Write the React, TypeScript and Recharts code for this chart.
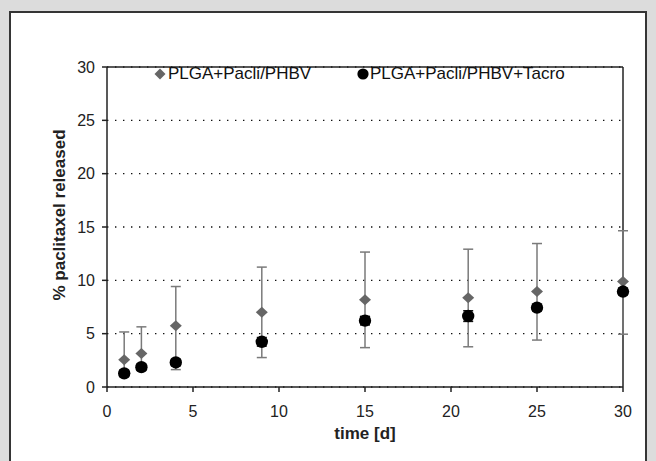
import {
  ScatterChart,
  Scatter,
  XAxis,
  YAxis,
  CartesianGrid,
  ErrorBar,
  ReferenceLine,
  Legend,
  Label,
} from "recharts"

const days = [1, 2, 4, 9, 15, 21, 25, 30]
const pacliPhbv = [2.56, 3.14, 5.75, 7.0, 8.17, 8.37, 8.95, 9.9]
// error bars as [below, above]
const pacliPhbvErrLow = [1.3, 1.3, 4.12, 4.24, 4.48, 4.6, 4.55, 4.95]
const pacliPhbvErrHigh = [2.6, 2.5, 3.67, 4.24, 4.48, 4.55, 4.5, 4.75]
const pacliTacro = [1.28, 1.86, 2.3, 4.24, 6.22, 6.65, 7.44, 8.95]
const pacliTacroErr = [0.3, 0.3, 0.3, 0.4, 0.4, 0.5, 0.3, 0.3]
const xTicks = [0, 5, 10, 15, 20, 25, 30]
const yTicks = [0, 5, 10, 15, 20, 25, 30]

const SERIES_1 = "PLGA+Pacli/PHBV"
const SERIES_2 = "PLGA+Pacli/PHBV+Tacro"

const FONT = "'Liberation Sans', Arial, Helvetica, sans-serif"
const INK = "#222"
const DIAMOND_FILL = "#666"

const phbvData = days.map((d, i) => ({
  x: d,
  y: pacliPhbv[i],
  err: [pacliPhbvErrLow[i], pacliPhbvErrHigh[i]],
}))
const tacroData = days.map((d, i) => ({ x: d, y: pacliTacro[i], err: pacliTacroErr[i] }))

const tickStyle = { fontSize: 16, fill: INK, fontFamily: FONT }

function DiamondShape(props: any) {
  const { cx, cy } = props
  if (cx == null || cy == null) return null
  return <path d={`M${cx},${cy - 5.5} L${cx + 6},${cy} L${cx},${cy + 5.5} L${cx - 6},${cy} Z`} fill={DIAMOND_FILL} />
}

function DotShape(props: any) {
  const { cx, cy } = props
  if (cx == null || cy == null) return null
  return <circle cx={cx} cy={cy} r={6.2} fill="#000" />
}

function LegendBox() {
  return (
    <div style={{ position: "relative", width: 480, height: 24, fontFamily: FONT, fontSize: 17, color: "#111" }}>
      <div style={{ position: "absolute", left: 0, top: 0, display: "flex", alignItems: "center", height: 24 }}>
        <svg width={12} height={12} style={{ marginRight: 2 }}>
          <path d="M6,0.5 L11.5,6 L6,11.5 L0.5,6 Z" fill={DIAMOND_FILL} />
        </svg>
        <span>{SERIES_1}</span>
      </div>
      <div style={{ position: "absolute", left: 203, top: 0, display: "flex", alignItems: "center", height: 24 }}>
        <svg width={12} height={12} style={{ marginRight: 1 }}>
          <circle cx={6} cy={6} r={5.6} fill="#000" />
        </svg>
        <span>{SERIES_2}</span>
      </div>
    </div>
  )
}

export default function App() {
  return (
    <div
      style={{
        position: "absolute",
        left: 0,
        top: 0,
        width: 656,
        height: 461,
        overflow: "hidden",
        background: "#dcdcdc",
      }}
    >
      <div
        style={{
          position: "absolute",
          left: 9,
          top: 11,
          width: 638,
          height: 470,
          boxSizing: "border-box",
          border: "2px solid #353535",
          background: "#fff",
        }}
      />
      <div style={{ position: "absolute", left: 0, top: 0 }}>
        <ScatterChart width={656} height={461} margin={{ top: 43, right: 33, bottom: 34, left: 0 }}>
          <CartesianGrid
            horizontal
            vertical={false}
            stroke="#111"
            strokeWidth={1.3}
            strokeDasharray="1.4 6.6"
          />
          <XAxis
            type="number"
            dataKey="x"
            domain={[0, 30]}
            ticks={xTicks}
            height={40}
            tick={tickStyle}
            tickSize={5}
            tickMargin={14}
            axisLine={{ stroke: INK, strokeWidth: 1.5 }}
            tickLine={{ stroke: INK, strokeWidth: 1.5 }}
          >
            <Label
              value="time [d]"
              position="bottom"
              offset={0}
              style={{ fontSize: 17, fontWeight: "bold", fill: INK, fontFamily: FONT }}
            />
          </XAxis>
          <YAxis
            type="number"
            dataKey="y"
            domain={[0, 30]}
            ticks={yTicks}
            width={107}
            tick={tickStyle}
            tickSize={5}
            tickMargin={7}
            axisLine={{ stroke: INK, strokeWidth: 1.5 }}
            tickLine={{ stroke: INK, strokeWidth: 1.5 }}
          >
            <Label
              content={() => (
                <text
                  x={59}
                  y={215}
                  transform="rotate(-90 59 215)"
                  textAnchor="middle"
                  dominantBaseline="central"
                  style={{ fontSize: 17, fontWeight: "bold", fill: INK, fontFamily: FONT }}
                >
                  % paclitaxel released
                </text>
              )}
            />
          </YAxis>
          <ReferenceLine y={30} stroke={INK} strokeWidth={1.5} />
          <ReferenceLine x={30} stroke={INK} strokeWidth={1.5} />
          <Legend
            verticalAlign="top"
            align="left"
            wrapperStyle={{ top: 62, left: 154, width: 480 }}
            content={() => <LegendBox />}
          />
          <Scatter name={SERIES_1} data={phbvData} shape={DiamondShape} isAnimationActive={false}>
            <ErrorBar dataKey="err" direction="y" width={5} stroke="#7a7a7a" strokeWidth={1.5} />
          </Scatter>
          <Scatter name={SERIES_2} data={tacroData} shape={DotShape} isAnimationActive={false}>
            <ErrorBar dataKey="err" direction="y" width={5} stroke="#111" strokeWidth={1.5} />
          </Scatter>
        </ScatterChart>
      </div>
    </div>
  )
}
